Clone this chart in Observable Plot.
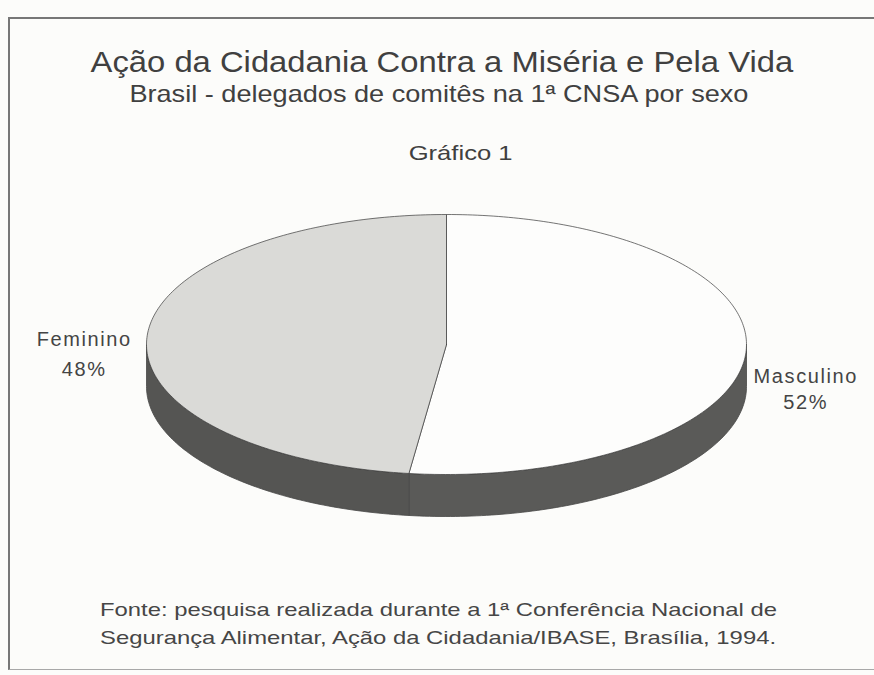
<!DOCTYPE html>
<html><head><meta charset="utf-8">
<script src="https://cdn.jsdelivr.net/npm/d3@7"></script>
<script src="https://cdn.jsdelivr.net/npm/@observablehq/plot@0.6"></script>
<style>
html,body{margin:0;padding:0;background:#fcfcfa;width:874px;height:675px;overflow:hidden;font-family:"Liberation Sans",Arial,Helvetica,sans-serif;color:#404040}
#frame{position:absolute;left:8px;top:17px;width:900px;height:650px;border-top:2px solid #777;border-left:2px solid #777;border-bottom:1px solid #a8a8a8}
.t{position:absolute;left:0;width:874px;text-align:center;white-space:nowrap;line-height:1}
.t span{display:inline-block;transform-origin:50% 50%}
#title{top:48px;font-size:29px;left:5px}
#title span{transform:scaleX(1.13)}
#subtitle{top:82px;font-size:24px;left:2px}
#subtitle span{transform:scaleX(1.13)}
#graf{top:142px;font-size:21px;left:24px}
#graf span{transform:scaleX(1.22)}
#caption{position:absolute;left:100px;top:596px;font-size:19px;line-height:28px;white-space:nowrap;color:#464646;transform-origin:0 0;transform:scaleX(1.255)}
#chart{position:absolute;left:0;top:190px}
</style></head>
<body>
<div id="frame"></div>
<div class="t" id="title"><span>Ação da Cidadania Contra a Miséria e Pela Vida</span></div>
<div class="t" id="subtitle"><span>Brasil - delegados de comitês na 1ª CNSA por sexo</span></div>
<div class="t" id="graf"><span>Gráfico 1</span></div>
<div id="chart"></div>
<div id="caption">Fonte: pesquisa realizada durante a 1ª Conferência Nacional de<br>Segurança Alimentar, Ação da Cidadania/IBASE, Brasília, 1994.</div>
<script>
const categories = ["Masculino", "Feminino"];
const values = [52, 48];
const percentLabels = ["52%", "48%"];
const topColors = ["#fdfdfc", "#dadad7"];
const sideColors = ["#5a5a58", "#555553"];

const depth = 0.323;
const total = d3.sum(values);
let acc = 0;
const slices = categories.map((c, i) => {
  const a0 = acc / total * 2 * Math.PI;
  acc += values[i];
  const a1 = acc / total * 2 * Math.PI;
  return {name: c, value: values[i], label: percentLabels[i], a0, a1, i};
});

function arc(a0, a1, yOff) {
  const n = Math.max(2, Math.ceil((a1 - a0) / (Math.PI / 180)));
  const pts = [];
  for (let k = 0; k <= n; k++) {
    const a = a0 + (a1 - a0) * k / n;
    pts.push({x: Math.sin(a), y: Math.cos(a) - yOff});
  }
  return pts;
}

const sidePts = [];
const topPts = [];
slices.forEach(s => {
  const s0 = Math.max(s.a0, Math.PI / 2), s1 = Math.min(s.a1, 3 * Math.PI / 2);
  if (s1 > s0) {
    const up = arc(s0, s1, 0);
    const down = arc(s0, s1, depth).reverse();
    const poly = up.concat(down);
    poly.push(poly[0]);
    poly.forEach(p => sidePts.push({...p, id: "side" + s.i, fill: sideColors[s.i]}));
  }
  const poly = [{x: 0, y: 0}].concat(arc(s.a0, s.a1, 0));
  poly.push(poly[0]);
  poly.forEach(p => topPts.push({...p, id: "top" + s.i, fill: topColors[s.i]}));
});

const labelData = slices.map(s => {
  const m = (s.a0 + s.a1) / 2;
  return {x: 1.2 * Math.sin(m), y: 1.2 * Math.cos(m) - 0.2, text: s.name + "\n" + s.label, name: s.name};
});

const chart = Plot.plot({
  width: 874,
  height: 350,
  margin: 0,
  x: {domain: [-1, 1], range: [146, 746], axis: null},
  y: {domain: [-1 - depth, 1], range: [326, 24], axis: null},
  marks: [
    Plot.line(sidePts, {x: "x", y: "y", z: "id", fill: "fill", stroke: "#484846", strokeWidth: 0.8, curve: "linear"}),
    Plot.line(topPts, {x: "x", y: "y", z: "id", fill: "fill", stroke: "#3a3a3a", strokeWidth: 0.7, curve: "linear"}),
    Plot.text(labelData.filter(d => d.name === "Feminino"), {x: "x", y: "y", text: "text", fontSize: 20, lineHeight: 1.5, fill: "#444", fontFamily: "Liberation Sans, Arial, sans-serif", dx: -3, dy: -9}),
    Plot.text(labelData.filter(d => d.name === "Masculino"), {x: "x", y: "y", text: "text", fontSize: 20, lineHeight: 1.3, fill: "#444", fontFamily: "Liberation Sans, Arial, sans-serif", dx: 0, dy: 7})
  ]
});
d3.select(chart).selectAll("text").style("letter-spacing", "1.6px");
document.getElementById("chart").appendChild(chart);
</script>
</body></html>
